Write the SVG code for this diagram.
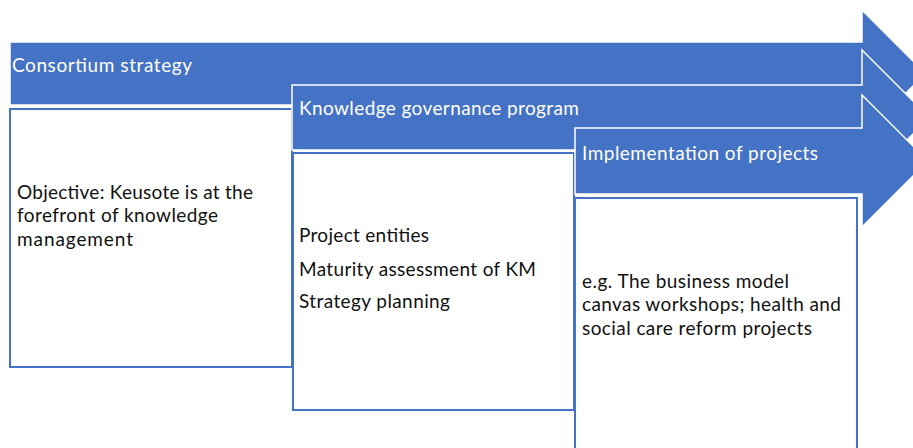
<svg xmlns="http://www.w3.org/2000/svg" width="913" height="448" viewBox="0 0 913 448">
<style>
.arrow{fill:#4472C4;stroke:#FFFFFF;stroke-width:1.5;stroke-linejoin:miter}
.box{fill:#FFFFFF;stroke:#4472C4;stroke-width:2}
.hd{font-family:Lato,"Liberation Sans",sans-serif;font-size:19px;fill:#FFFFFF}
.bd{font-family:Lato,"Liberation Sans",sans-serif;font-size:19px;fill:#111111}
</style>
<rect width="913" height="448" fill="#FFFFFF"/>
<g id="arrow1">
<path class="arrow" d="M10,42 H862 V10 L925.5,73.5 L862,137 V105 H10 Z"/>
<text class="hd" x="12" y="72" textLength="180">Consortium strategy</text>
</g>
<g id="box1">
<rect class="box" x="10" y="109" width="282" height="258"/>
<text class="bd" x="17" y="199" textLength="236">Objective: Keusote is at the</text>
<text class="bd" x="17" y="222" textLength="201">forefront of knowledge</text>
<text class="bd" x="17" y="246" textLength="116">management</text>
</g>
<g id="arrow2">
<path class="arrow" d="M292,85 H862 V50 L929.5,117.5 L862,185 V150 H292 Z"/>
<text class="hd" x="299" y="115" textLength="280">Knowledge governance program</text>
</g>
<g id="box2">
<rect class="box" x="293" y="153" width="281" height="257"/>
<text class="bd" x="299" y="242" textLength="130">Project entities</text>
<text class="bd" x="299" y="276" textLength="237">Maturity assessment of KM</text>
<text class="bd" x="299" y="308" textLength="151">Strategy planning</text>
</g>
<g id="arrow3">
<path class="arrow" d="M575,128 H862 V95 L928,161 L862,227 V194 H575 Z"/>
<text class="hd" x="582" y="160" textLength="236">Implementation of projects</text>
</g>
<g id="box3">
<rect class="box" x="575" y="198" width="282" height="260"/>
<text class="bd" x="582" y="288" textLength="207">e.g. The business model</text>
<text class="bd" x="582" y="311" textLength="259">canvas workshops; health and</text>
<text class="bd" x="582" y="335" textLength="230">social care reform projects</text>
</g>
<g id="connectors"></g>
</svg>
